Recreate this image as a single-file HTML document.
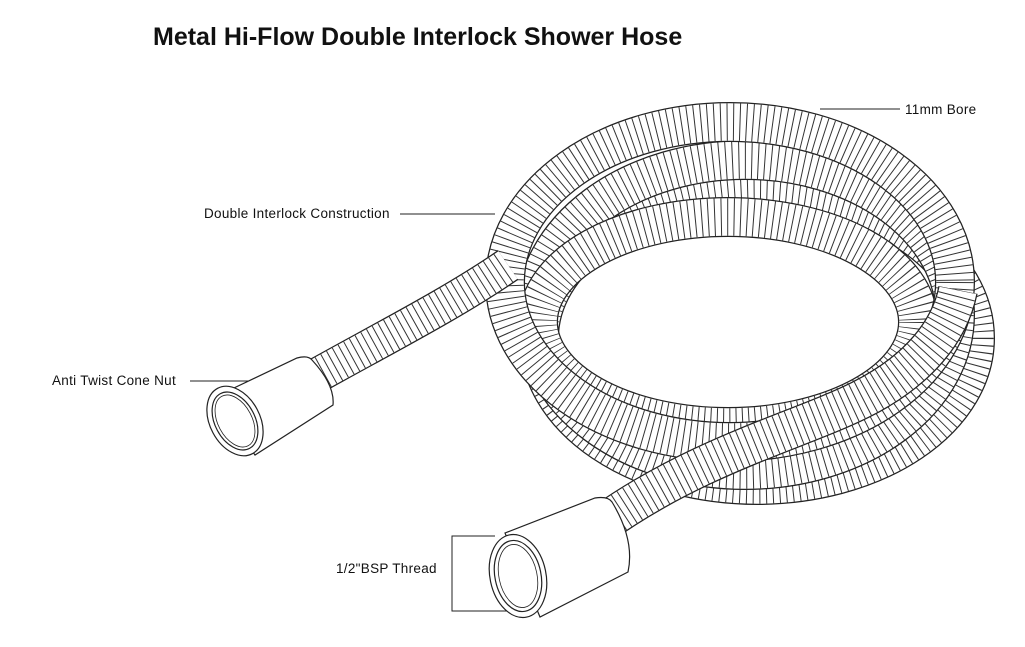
<!DOCTYPE html>
<html><head><style>
html,body{margin:0;padding:0;background:#fff;width:1025px;height:647px;overflow:hidden}
svg{display:block}
</style></head><body>
<svg width="1025" height="647" viewBox="0 0 1025 647" xmlns="http://www.w3.org/2000/svg" font-family="Liberation Sans, sans-serif">
<text x="153" y="45" font-size="25" font-weight="bold" fill="#111">Metal Hi-Flow Double Interlock Shower Hose</text>
<g font-size="13.5" fill="#111" letter-spacing="0.3">
<text x="905" y="114">11mm Bore</text>
<text x="204" y="218">Double Interlock Construction</text>
<text x="52" y="385">Anti Twist Cone Nut</text>
<text x="336" y="573">1/2"BSP Thread</text>
</g>
<g stroke="#222" stroke-width="1" fill="none">
<line x1="820" y1="109" x2="900" y2="109"/>
<line x1="400" y1="214" x2="495" y2="214"/>
<line x1="190" y1="381" x2="252" y2="381"/>
<polyline points="495,536 452,536 452,611 515,611"/>
</g>
<defs>
<ellipse id="c1" cx="757" cy="338" rx="218" ry="147"/>
<ellipse id="c2" cx="745" cy="315" rx="210" ry="155"/>
<ellipse id="c3" cx="728" cy="322" rx="190" ry="105"/>
<ellipse id="c4" cx="730" cy="282" rx="225" ry="160"/>
<path id="h1" d="M300,385 C380,340 450,305 508,265"/>
<path id="h2" d="M605,522 C700,455 800,430 860,400 C920,370 950,330 958,290"/>
</defs>
<g fill="none">
<use href="#c1" stroke="#222" stroke-width="40"/><use href="#c1" stroke="#fff" stroke-width="37.5"/><use href="#c1" stroke="#333" stroke-width="37.5" stroke-dasharray="1 5.5"/>
<use href="#c2" stroke="#222" stroke-width="40"/><use href="#c2" stroke="#fff" stroke-width="37.5"/><use href="#c2" stroke="#333" stroke-width="37.5" stroke-dasharray="1 5.5"/>
<use href="#c3" stroke="#222" stroke-width="40"/><use href="#c3" stroke="#fff" stroke-width="37.5"/><use href="#c3" stroke="#333" stroke-width="37.5" stroke-dasharray="1 5.5"/>
<use href="#c4" stroke="#222" stroke-width="40"/><use href="#c4" stroke="#fff" stroke-width="37.5"/><use href="#c4" stroke="#333" stroke-width="37.5" stroke-dasharray="1 5.5"/>
<use href="#h1" stroke="#222" stroke-width="36"/><use href="#h1" stroke="#fff" stroke-width="33.5"/><use href="#h1" stroke="#333" stroke-width="33.5" stroke-dasharray="1 5.5"/>
<use href="#h2" stroke="#222" stroke-width="40"/><use href="#h2" stroke="#fff" stroke-width="37.5"/><use href="#h2" stroke="#333" stroke-width="37.5" stroke-dasharray="1 5.5"/>
</g>
<g stroke="#222" stroke-width="1.2" fill="#fff">
<path d="M215,397 L297,358 Q308,355 312,360 Q335,385 333,405 L255,455 Z"/>
<ellipse cx="235" cy="421" rx="25" ry="37" transform="rotate(-28 235 421)"/>
<ellipse cx="235" cy="421" rx="20" ry="31" transform="rotate(-28 235 421)" fill="none"/>
<ellipse cx="235" cy="421" rx="17" ry="28" transform="rotate(-28 235 421)" fill="none" stroke-width="0.8"/>
<path d="M505,533 L595,498 Q608,496 612,502 Q635,540 628,572 L540,617 Z"/>
<ellipse cx="518" cy="576" rx="28" ry="42" transform="rotate(-12 518 576)"/>
<ellipse cx="518" cy="576" rx="23" ry="36" transform="rotate(-12 518 576)" fill="none"/>
<ellipse cx="518" cy="576" rx="19" ry="32" transform="rotate(-12 518 576)" fill="none" stroke-width="0.8"/>
</g>
</svg>
</body></html>
